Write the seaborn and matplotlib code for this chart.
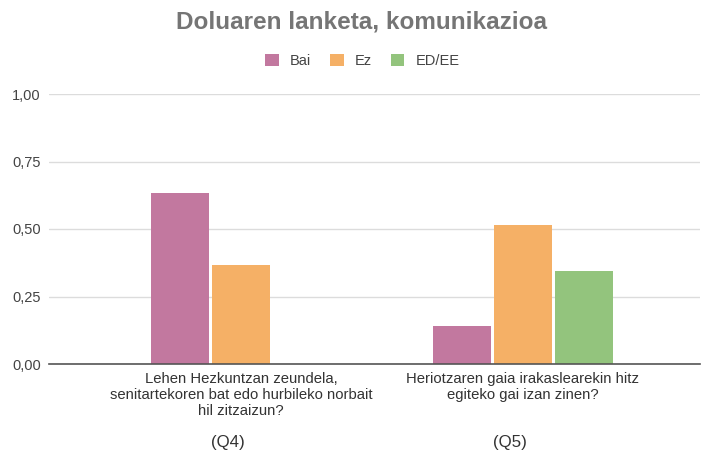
import matplotlib.pyplot as plt
import matplotlib.transforms as mtransforms
import pandas as pd
import seaborn as sns
from matplotlib.patches import Patch
from matplotlib.ticker import FuncFormatter

# Data
questions = [
    "Lehen Hezkuntzan zeundela,\nsenitartekoren bat edo hurbileko norbait\nhil zitzaizun?",
    "Heriotzaren gaia irakaslearekin hitz\negiteko gai izan zinen?",
]
codes = ["(Q4)", "(Q5)"]
answers = ["Bai", "Ez", "ED/EE"]
bai = [0.634, 0.14]
ez = [0.366, 0.516]
ed_ee = [0.0, 0.344]
colors = ["#C2789F", "#F5B066", "#93C47D"]

df = pd.DataFrame({"question": questions, "Bai": bai, "Ez": ez, "ED/EE": ed_ee})
df = df.melt(id_vars="question", var_name="answer", value_name="value")

sns.set_style("white")
plt.rcParams["font.family"] = ["Liberation Sans", "DejaVu Sans"]

fig = plt.figure(figsize=(7.01, 4.5), dpi=100)
ax = fig.add_axes([49 / 701, 86 / 450, 651 / 701, 270 / 450])

sns.barplot(data=df, x="question", y="value", hue="answer", hue_order=answers,
            order=questions, palette=colors, width=0.649, gap=0.05,
            linewidth=0, saturation=1, ax=ax, legend=False)

ax.set_xlim(-0.681, 1.628)
ax.set_ylim(0, 1)
ax.set_yticks([0, 0.25, 0.5, 0.75, 1.0])
ax.yaxis.set_major_formatter(FuncFormatter(lambda v, p: f"{v:.2f}".replace(".", ",")))
ax.grid(axis="y", color="#dcdcdc", linewidth=1)
ax.set_axisbelow(True)
for s in ["left", "right", "top"]:
    ax.spines[s].set_visible(False)
ax.spines["bottom"].set_color("#555555")
ax.spines["bottom"].set_linewidth(1.2)
ax.tick_params(axis="y", length=0, pad=5.8, labelsize=10.5, labelcolor="#444444")
ax.tick_params(axis="x", length=0, pad=6, labelsize=10.7, labelcolor="#333333")
ax.set_xticks(range(len(questions)))
ax.set_xticklabels(questions, linespacing=1.15)
ax.set_xlabel("")
ax.set_ylabel("")

# question codes below the tick labels (sit slightly left of the group centre)
trans = mtransforms.blended_transform_factory(ax.transData, fig.transFigure)
for i, c in enumerate(codes):
    ax.text(i - 0.046, 1 - 442 / 450, c, transform=trans, ha="center", va="center",
            fontsize=12.2, color="#333333")

fig.text(361 / 701, 1 - 22 / 450, "Doluaren lanketa, komunikazioa", ha="center", va="center",
         fontsize=17.5, fontweight="bold", color="#757575")

handles = [Patch(facecolor=c, edgecolor="none", label=a) for a, c in zip(answers, colors)]
fig.legend(handles=handles, loc="center", bbox_to_anchor=(362 / 701, 1 - 61 / 450), ncol=3,
           frameon=False, fontsize=10.5, handlelength=0.95, handleheight=0.95,
           handletextpad=0.75, columnspacing=1.3, labelcolor="#444444")

fig.savefig("out.png", dpi=100)
